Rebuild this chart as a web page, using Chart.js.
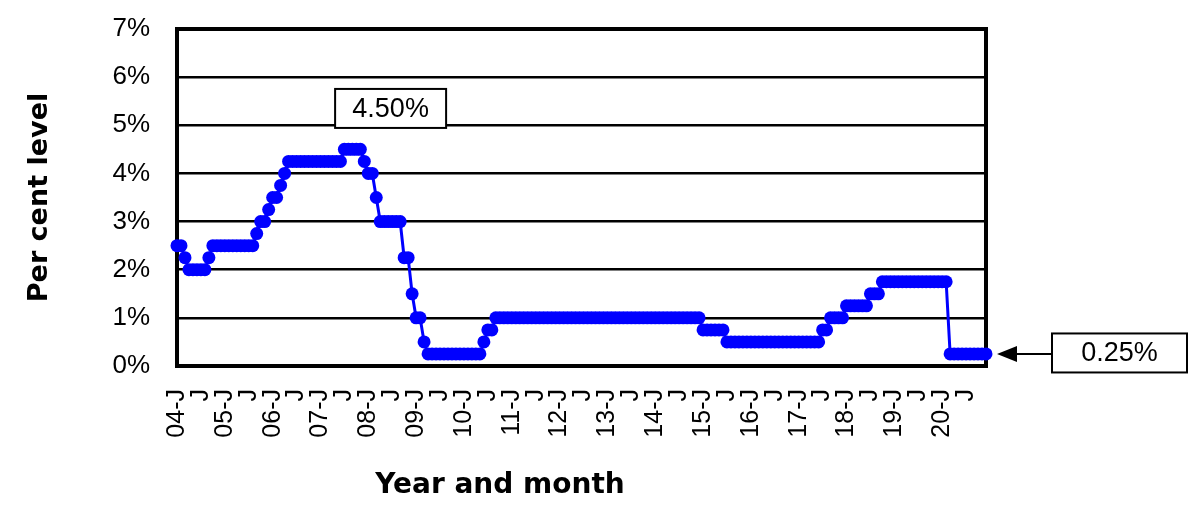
<!DOCTYPE html>
<html>
<head>
<meta charset="utf-8">
<title>Per cent level</title>
<script src="https://cdn.jsdelivr.net/npm/chart.js@4.4.1/dist/chart.umd.min.js"></script>
<style>
    html, body { margin: 0; padding: 0; background: #fff; }
    #wrap      { width: 1200px; height: 512px; }
</style>
</head>
<body>
<div id="wrap"><canvas id="rate_chart" width="1200" height="512"></canvas></div>
<script>
// data (month-end level, Jan 2004 - Dec 2020)
const years        = ['04','05','06','07','08','09','10','11','12','13','14','15','16','17','18','19','20'];
const monthLetters = ['J','F','M','A','M','J','J','A','S','O','N','D'];

const rate2004 = [2.5, 2.5, 2.25, 2, 2, 2, 2, 2, 2.25, 2.5, 2.5, 2.5];
const rate2005 = [2.5, 2.5, 2.5, 2.5, 2.5, 2.5, 2.5, 2.5, 2.75, 3, 3, 3.25];
const rate2006 = [3.5, 3.5, 3.75, 4, 4.25, 4.25, 4.25, 4.25, 4.25, 4.25, 4.25, 4.25];
const rate2007 = [4.25, 4.25, 4.25, 4.25, 4.25, 4.25, 4.5, 4.5, 4.5, 4.5, 4.5, 4.25];
const rate2008 = [4, 4, 3.5, 3, 3, 3, 3, 3, 3, 2.25, 2.25, 1.5];
const rate2009 = [1, 1, 0.5, 0.25, 0.25, 0.25, 0.25, 0.25, 0.25, 0.25, 0.25, 0.25];
const rate2010 = [0.25, 0.25, 0.25, 0.25, 0.25, 0.5, 0.75, 0.75, 1, 1, 1, 1];
const rate2011 = [1, 1, 1, 1, 1, 1, 1, 1, 1, 1, 1, 1];
const rate2012 = [1, 1, 1, 1, 1, 1, 1, 1, 1, 1, 1, 1];
const rate2013 = [1, 1, 1, 1, 1, 1, 1, 1, 1, 1, 1, 1];
const rate2014 = [1, 1, 1, 1, 1, 1, 1, 1, 1, 1, 1, 1];
const rate2015 = [0.75, 0.75, 0.75, 0.75, 0.75, 0.75, 0.5, 0.5, 0.5, 0.5, 0.5, 0.5];
const rate2016 = [0.5, 0.5, 0.5, 0.5, 0.5, 0.5, 0.5, 0.5, 0.5, 0.5, 0.5, 0.5];
const rate2017 = [0.5, 0.5, 0.5, 0.5, 0.5, 0.5, 0.75, 0.75, 1, 1, 1, 1];
const rate2018 = [1.25, 1.25, 1.25, 1.25, 1.25, 1.25, 1.5, 1.5, 1.5, 1.75, 1.75, 1.75];
const rate2019 = [1.75, 1.75, 1.75, 1.75, 1.75, 1.75, 1.75, 1.75, 1.75, 1.75, 1.75, 1.75];
const rate2020 = [1.75, 1.75, 0.25, 0.25, 0.25, 0.25, 0.25, 0.25, 0.25, 0.25, 0.25, 0.25];

const yTicks    = [0, 1, 2, 3, 4, 5, 6, 7];
const peakText  = '4.50%';
const lastText  = '0.25%';
const xTitle    = 'Year and month';

const rates = [].concat(rate2004, rate2005, rate2006, rate2007, rate2008, rate2009, rate2010,
                        rate2011, rate2012, rate2013, rate2014, rate2015, rate2016, rate2017,
                        rate2018, rate2019, rate2020);

const months = [];
years.forEach(yr => monthLetters.forEach(m => months.push(yr + '-' + m)));

const BLUE = '#0000ff';
const tickFont  = {family: '"Liberation Sans", Arial, sans-serif', size: 26};
const titleFont = {family: '"DejaVu Sans", sans-serif', size: 27, weight: 'bold'};

// helpers
const drawBox = (ctx, text, cx, cy, w, h) => {
    ctx.fillStyle = '#fff';
    ctx.fillRect(cx - w / 2, cy - h / 2, w, h);
    ctx.strokeStyle = '#000';
    ctx.lineWidth = 2;
    ctx.strokeRect(cx - w / 2, cy - h / 2, w, h);
    ctx.fillStyle = '#000';
    ctx.font = '27px "Liberation Sans", Arial, sans-serif';
    ctx.textAlign = 'center';
    ctx.textBaseline = 'middle';
    ctx.fillText(text, cx, cy + 1);
}

// plot frame under the line
const framePlugin = {
    id: 'frame',
    beforeDatasetsDraw(chart){
        const {ctx, chartArea: a} = chart;
        ctx.save();
        ctx.strokeStyle = '#000';
        ctx.lineWidth = 4;
        ctx.strokeRect(a.left, a.top, a.right - a.left, a.bottom - a.top);
        ctx.restore();
    }
}

// text boxes, arrow, x title
const calloutPlugin = {
    id: 'callouts',
    afterDatasetsDraw(chart){
        const {ctx, chartArea: a, scales: {x, y}} = chart;
        ctx.save();

        // peak label
        drawBox(ctx, peakText, x.getPixelForValue(53.6), y.getPixelForValue(5.35), 111, 39);

        // last value label with arrow
        const last  = rates.length - 1;
        const ay    = y.getPixelForValue(rates[last]);
        const tipX  = x.getPixelForValue(last) + 11;
        const boxL  = a.right + 66;
        drawBox(ctx, lastText, boxL + 67.5, ay - 1, 135, 39);

        ctx.strokeStyle = '#000';
        ctx.lineWidth = 2;
        ctx.beginPath();
        ctx.moveTo(boxL, ay);
        ctx.lineTo(tipX + 18, ay);
        ctx.stroke();
        ctx.fillStyle = '#000';
        ctx.beginPath();
        ctx.moveTo(tipX, ay);
        ctx.lineTo(tipX + 20, ay - 8);
        ctx.lineTo(tipX + 20, ay + 8);
        ctx.closePath();
        ctx.fill();

        // axis title, sits left of the plot centre in the original
        ctx.fillStyle = '#000';
        ctx.font = 'bold 28px "DejaVu Sans", sans-serif';
        ctx.textAlign = 'center';
        ctx.textBaseline = 'middle';
        ctx.fillText(xTitle, a.left + 323, 486);

        ctx.restore();
    }
}

const rate_chart = document.getElementById('rate_chart');

var rate_chart_ref = new Chart(rate_chart, {
    type: 'line',
    data: {
        labels: months,
        datasets: [{
            data: rates,
            borderColor: BLUE,
            borderWidth: 3,
            backgroundColor: BLUE,
            pointBackgroundColor: BLUE,
            pointBorderWidth: 0,
            pointRadius: 6.5,
            pointHoverRadius: 6.5,
            tension: 0,
            clip: false
        }]
    },
    options: {
        responsive: false,
        animation: false,
        devicePixelRatio: 1,
        layout: {padding: {top: 29, right: 214, left: 0, bottom: 0}},
        plugins: {
            legend: {display: false},
            tooltip: {enabled: false}
        },
        scales: {
            x: {
                type: 'category',
                offset: false,
                grid: {display: false, drawTicks: false},
                border: {display: false},
                afterFit: (scale) => {
                    scale.height = 146;
                    scale.paddingLeft = 0;
                    scale.paddingRight = 0;
                    scale.paddingTop = 0;
                    scale.paddingBottom = 0;
                },
                ticks: {
                    autoSkip: false,
                    minRotation: 90,
                    maxRotation: 90,
                    padding: 23,
                    color: '#000',
                    font: {family: '"Liberation Sans", Arial, sans-serif', size: 25},
                    callback: (val, i) => {
                        const m = i % 12;
                        if (m === 0) return years[i / 12] + '-' + monthLetters[0];
                        if (m === 6) return monthLetters[6];
                        return '';
                    }
                }
            },
            y: {
                min: yTicks[0],
                max: yTicks[yTicks.length - 1],
                afterFit: (scale) => {
                    scale.width = 177;
                    scale.paddingTop = 0;
                    scale.paddingBottom = 0;
                },
                afterBuildTicks: (scale) => { scale.ticks = yTicks.map(v => ({value: v})); },
                grid: {color: '#000', lineWidth: 2.5, drawTicks: false},
                border: {display: false},
                ticks: {
                    padding: 27,
                    color: '#000',
                    font: tickFont,
                    callback: (v) => v + '%'
                },
                title: {
                    display: true,
                    text: 'Per cent level',
                    color: '#000',
                    font: titleFont,
                    padding: {top: 24, bottom: 0}
                }
            }
        }
    },
    plugins: [framePlugin, calloutPlugin]
})
</script>
</body>
</html>
